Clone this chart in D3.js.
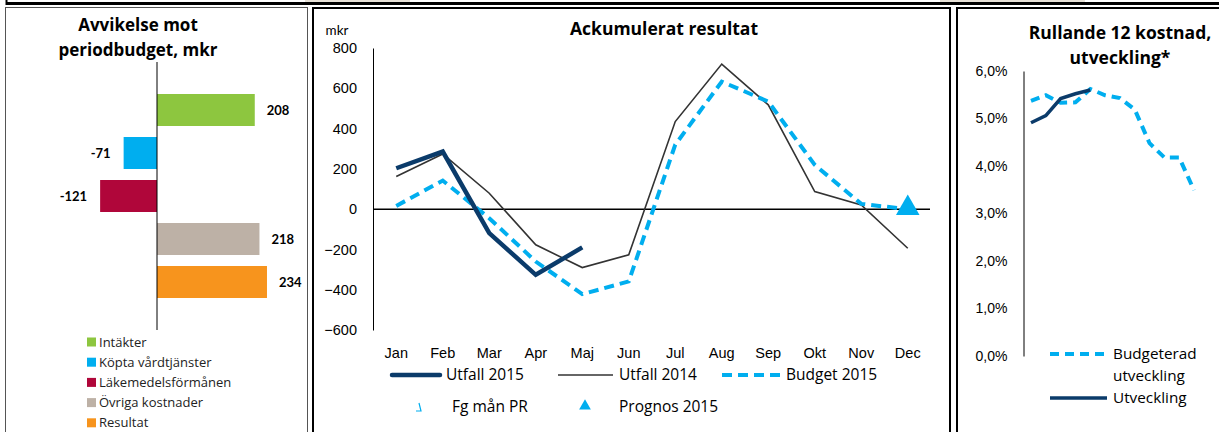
<!DOCTYPE html>
<html>
<head>
<meta charset="utf-8">
<script src="https://cdn.jsdelivr.net/npm/d3@7"></script>
<style>
  body { margin: 0; background: #fff; }
  svg { display: block; font-family: Lato, "Open Sans", sans-serif; }
  .title, .legend text { font-family: "Open Sans", Lato, sans-serif; }
</style>
</head>
<body>
<svg id="chart" width="1219" height="432"></svg>
<script>
// left panel: deviation vs period budget
const barCategories = ['Intäkter', 'Köpta vårdtjänster', 'Läkemedelsförmånen', 'Övriga kostnader', 'Resultat'];
const barValues = [208, -71, -121, 218, 234];
const barColors = ['#8dc63f', '#00aeef', '#b0063a', '#bdb1a6', '#f7941d'];

// middle panel: accumulated result
const months = ['Jan', 'Feb', 'Mar', 'Apr', 'Maj', 'Jun', 'Jul', 'Aug', 'Sep', 'Okt', 'Nov', 'Dec'];
const utfall2015 = [203, 286, -119, -326, -190];
const utfall2014 = [162, 274, 79, -177, -290, -227, 435, 720, 518, 87, 21, -194];
const budget2015 = [16, 142, -45, -260, -422, -359, 320, 633, 534, 220, 26, 0];
const prognos2015 = [{ month: 'Dec', value: 0 }];
const resultTicks = [800, 600, 400, 200, 0, -200, -400, -600];

// right panel: rolling 12 cost development (%)
const budgeteradUtveckling = [5.37, 5.49, 5.33, 5.34, 5.62, 5.49, 5.43, 5.19, 4.48, 4.18, 4.18, 3.49];
const utveckling = [4.91, 5.06, 5.42, 5.52, 5.60];
const pctTicks = [0, 1, 2, 3, 4, 5, 6];

const navy = '#0b3b6a';
const lightBlue = '#00aeef';
const svg = d3.select('#chart');

// frames
svg.append('rect').attr('x', 305).attr('y', 0).attr('width', 105).attr('height', 2).attr('fill', '#e6e0d6');
svg.append('rect').attr('x', 940).attr('y', 0).attr('width', 145).attr('height', 2).attr('fill', '#e6e0d6');
svg.append('line').attr('x1', 6).attr('x2', 1219).attr('y1', 3.5).attr('y2', 3.5)
  .attr('stroke', '#000').attr('stroke-width', 3);
svg.append('line').attr('x1', 6.5).attr('x2', 6.5).attr('y1', 0).attr('y2', 5)
  .attr('stroke', '#000').attr('stroke-width', 2);
svg.append('rect').attr('x', 5.5).attr('y', 7.5).attr('width', 302).attr('height', 440)
  .attr('fill', 'none').attr('stroke', '#555').attr('stroke-width', 1);
svg.append('rect').attr('x', 313).attr('y', 8).attr('width', 637).attr('height', 440)
  .attr('fill', 'none').attr('stroke', '#000').attr('stroke-width', 2);
svg.append('rect').attr('x', 957).attr('y', 8).attr('width', 270).attr('height', 440)
  .attr('fill', 'none').attr('stroke', '#000').attr('stroke-width', 2);

// ---------- left: bars ----------
const left = svg.append('g');

left.append('text').attr('class', 'title').attr('x', 138).attr('y', 31).attr('text-anchor', 'middle')
  .attr('font-size', 17).attr('font-weight', 'bold').text('Avvikelse mot');
left.append('text').attr('class', 'title').attr('x', 138).attr('y', 56).attr('text-anchor', 'middle')
  .attr('font-size', 17).attr('font-weight', 'bold').text('periodbudget, mkr');

const bx = d3.scaleLinear().domain([-200, 300]).range([63, 298]);
const by = d3.scaleBand().domain(barCategories).range([88.5, 303.5])
  .paddingInner(0.256).paddingOuter(0.128);

left.selectAll('.bar')
  .data(barValues)
  .enter()
  .append('rect')
  .attr('class', 'bar')
  .attr('x', (d) => bx(Math.min(0, d)))
  .attr('y', (d, i) => by(barCategories[i]))
  .attr('width', (d) => Math.abs(bx(d) - bx(0)))
  .attr('height', by.bandwidth())
  .attr('fill', (d, i) => barColors[i]);

left.append('line').attr('x1', bx(0)).attr('x2', bx(0)).attr('y1', 62).attr('y2', 330)
  .attr('stroke', '#000').attr('stroke-width', 1);

left.selectAll('.bar-label')
  .data(barValues)
  .enter()
  .append('text')
  .attr('class', 'bar-label')
  .attr('x', (d) => d >= 0 ? bx(d) + 12 : bx(d) - 13)
  .attr('y', (d, i) => by(barCategories[i]) + by.bandwidth() / 2)
  .attr('dy', '0.35em')
  .attr('text-anchor', (d) => d >= 0 ? 'start' : 'end')
  .attr('font-size', 13).attr('font-weight', 'bold')
  .text((d) => d);

const barLegend = left.append('g').attr('class', 'legend').selectAll('g')
  .data(barCategories)
  .enter()
  .append('g')
  .attr('transform', (d, i) => `translate(87, ${342 + i * 20.2})`);
barLegend.append('rect').attr('x', 0).attr('y', -4.5).attr('width', 9).attr('height', 9)
  .attr('fill', (d, i) => barColors[i]);
barLegend.append('text').attr('x', 12).attr('dy', '0.35em').attr('font-size', 13)
  .attr('fill', '#222').text((d) => d);

// ---------- middle: accumulated result ----------
const mid = svg.append('g');

mid.append('text').attr('class', 'title').attr('x', 664).attr('y', 35).attr('text-anchor', 'middle')
  .attr('font-size', 17.5).attr('font-weight', 'bold').text('Ackumulerat resultat');
mid.append('text').attr('x', 337).attr('y', 35).attr('text-anchor', 'middle')
  .attr('font-size', 13.5).text('mkr');

const mxBand = d3.scaleBand().domain(months).range([373, 931]);
const mx = (m) => mxBand(m) + mxBand.bandwidth() / 2;
const my = d3.scaleLinear().domain([-600, 800]).range([330, 48]);

mid.append('g')
  .attr('transform', 'translate(373, 0)')
  .call(d3.axisLeft(my).tickValues(resultTicks).tickSizeInner(0).tickSizeOuter(0).tickPadding(16))
  .call((g) => g.select('.domain').attr('stroke', '#000'))
  .call((g) => g.selectAll('text').attr('font-size', 14.5).attr('fill', '#000').attr('font-family', null));

mid.append('line').attr('x1', 373).attr('x2', 930).attr('y1', my(0)).attr('y2', my(0))
  .attr('stroke', '#000').attr('stroke-width', 1.5);

mid.append('g')
  .attr('transform', 'translate(0, 348)')
  .call(d3.axisBottom(mxBand).tickSizeInner(0).tickSizeOuter(0).tickPadding(0))
  .call((g) => g.select('.domain').remove())
  .call((g) => g.selectAll('text').attr('font-size', 14.5).attr('fill', '#000').attr('font-family', null));

const midLine = d3.line().x((d, i) => mx(months[i])).y((d) => my(d));

mid.append('path').datum(utfall2014).attr('d', midLine)
  .attr('fill', 'none').attr('stroke', '#333').attr('stroke-width', 1.6);
mid.append('path').datum(budget2015).attr('d', midLine)
  .attr('fill', 'none').attr('stroke', lightBlue).attr('stroke-width', 4)
  .attr('stroke-dasharray', '10,6');
mid.append('path').datum(utfall2015).attr('d', midLine)
  .attr('fill', 'none').attr('stroke', navy).attr('stroke-width', 4.5);

const triangle = d3.symbol().type(d3.symbolTriangle).size(240);
mid.selectAll('.prognos')
  .data(prognos2015)
  .enter()
  .append('path')
  .attr('class', 'prognos')
  .attr('transform', (d) => `translate(${mx(d.month)}, ${my(d.value) - 1})`)
  .attr('d', triangle)
  .attr('fill', lightBlue);

// middle legend
const midLegend = mid.append('g').attr('class', 'legend').attr('font-size', 15.5).attr('fill', '#000');
midLegend.append('line').attr('x1', 392).attr('x2', 440).attr('y1', 375).attr('y2', 375)
  .attr('stroke', navy).attr('stroke-width', 4.5).attr('stroke-linecap', 'round');
midLegend.append('text').attr('x', 446).attr('y', 375).attr('dy', '0.35em').text('Utfall 2015');
midLegend.append('line').attr('x1', 558).attr('x2', 613).attr('y1', 375).attr('y2', 375)
  .attr('stroke', '#333').attr('stroke-width', 1.6);
midLegend.append('text').attr('x', 619).attr('y', 375).attr('dy', '0.35em').text('Utfall 2014');
midLegend.append('line').attr('x1', 722).attr('x2', 783).attr('y1', 375).attr('y2', 375)
  .attr('stroke', lightBlue).attr('stroke-width', 4).attr('stroke-dasharray', '10,6');
midLegend.append('text').attr('x', 786).attr('y', 375).attr('dy', '0.35em').text('Budget 2015');
midLegend.append('path').attr('d', 'M419,403 L421,411 L416,411')
  .attr('fill', 'none').attr('stroke', lightBlue).attr('stroke-width', 1.2);
midLegend.append('text').attr('x', 452).attr('y', 407).attr('dy', '0.35em').text('Fg mån PR');
midLegend.append('path').attr('transform', 'translate(585, 406)')
  .attr('d', d3.symbol().type(d3.symbolTriangle).size(60)).attr('fill', lightBlue);
midLegend.append('text').attr('x', 619).attr('y', 407).attr('dy', '0.35em').text('Prognos 2015');

// ---------- right: rolling 12 cost ----------
const right = svg.append('g');

right.append('text').attr('class', 'title').attr('x', 1120).attr('y', 39).attr('text-anchor', 'middle')
  .attr('font-size', 17.5).attr('font-weight', 'bold').text('Rullande 12 kostnad,');
right.append('text').attr('class', 'title').attr('x', 1120).attr('y', 64).attr('text-anchor', 'middle')
  .attr('font-size', 17.5).attr('font-weight', 'bold').text('utveckling*');

const rx = d3.scalePoint().domain(months).range([1031, 1194]);
const ry = d3.scaleLinear().domain([0, 6]).range([356, 71]);
const pctFormat = (v) => d3.format('.1f')(v).replace('.', ',') + '%';

right.append('g')
  .attr('transform', 'translate(1023.5, 0)')
  .call(d3.axisLeft(ry).tickValues(pctTicks).tickFormat(pctFormat)
    .tickSizeInner(0).tickSizeOuter(0).tickPadding(16))
  .call((g) => g.select('.domain').attr('stroke', '#000'))
  .call((g) => g.selectAll('text').attr('font-size', 14).attr('fill', '#000').attr('font-family', null));

const rightLine = d3.line().x((d, i) => rx(months[i])).y((d) => ry(d));

right.append('path').datum(budgeteradUtveckling).attr('d', rightLine)
  .attr('fill', 'none').attr('stroke', lightBlue).attr('stroke-width', 4)
  .attr('stroke-dasharray', '9,6');
right.append('path').datum(utveckling).attr('d', rightLine)
  .attr('fill', 'none').attr('stroke', navy).attr('stroke-width', 3.5);

const rightLegend = right.append('g').attr('class', 'legend').attr('font-size', 15.3).attr('fill', '#000');
rightLegend.append('line').attr('x1', 1050).attr('x2', 1107).attr('y1', 354).attr('y2', 354)
  .attr('stroke', lightBlue).attr('stroke-width', 4).attr('stroke-dasharray', '9,6');
rightLegend.append('text').attr('x', 1113).attr('y', 354).attr('dy', '0.35em').text('Budgeterad');
rightLegend.append('text').attr('x', 1113).attr('y', 376).attr('dy', '0.35em').text('utveckling');
rightLegend.append('line').attr('x1', 1050).attr('x2', 1107).attr('y1', 398).attr('y2', 398)
  .attr('stroke', navy).attr('stroke-width', 3.5);
rightLegend.append('text').attr('x', 1113).attr('y', 398).attr('dy', '0.35em').text('Utveckling');
</script>
</body>
</html>
